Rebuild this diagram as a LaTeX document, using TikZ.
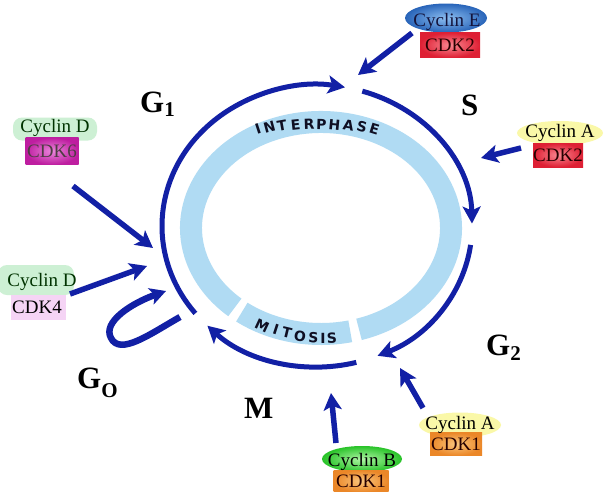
\documentclass[tikz,border=0pt]{standalone}
\usepackage{fontspec}
\setmainfont{Liberation Serif}
\newfontfamily\ringfont{DejaVu Sans}
\usetikzlibrary{arrows.meta,shapes.geometric}
\definecolor{arcblue}{RGB}{18,32,165}
\definecolor{ringblue}{RGB}{176,219,243}
\definecolor{ringtext}{RGB}{15,15,35}
\definecolor{navy}{RGB}{20,20,60}
\definecolor{cycEout}{RGB}{40,100,185}
\definecolor{cycEin}{RGB}{140,190,240}
\definecolor{cdkRout}{RGB}{222,32,52}
\definecolor{cdkRin}{RGB}{250,135,145}
\definecolor{cdkMout}{RGB}{190,30,160}
\definecolor{cdkMin}{RGB}{235,135,220}
\definecolor{cdkPink}{RGB}{245,212,245}
\definecolor{cdkOout}{RGB}{235,135,40}
\definecolor{cdkOin}{RGB}{250,198,125}
\definecolor{cycBout}{RGB}{40,195,40}
\definecolor{cycBin}{RGB}{175,245,165}
\definecolor{glowG}{RGB}{205,240,212}
\definecolor{glowY}{RGB}{250,248,168}
\begin{document}
\begin{tikzpicture}[x=1pt,y=1pt,
  arcarrow/.style={draw=arcblue, line width=5pt, -{Stealth[length=17pt,width=18pt,inset=4pt]}},
  sarrow/.style={draw=arcblue, line width=5.5pt, -{Stealth[length=17pt,width=18pt,inset=4pt]}},
  loopline/.style={draw=arcblue, line width=6.5pt, -{Stealth[length=16pt,width=17pt,inset=4pt]}},
  ring/.style={draw=ringblue, line width=22pt},
  ringtxt/.style={text=ringtext, font=\ringfont\bfseries\fontsize{14}{14}\selectfont, inner sep=0pt},
  lbl/.style={font=\fontsize{19}{19}\selectfont, inner sep=0pt},
  phase/.style={font=\bfseries\fontsize{31}{31}\selectfont, inner sep=0pt, anchor=base west},
  cdkbox/.style={rectangle, inner sep=0pt, draw=none},
  glowell/.style={ellipse, inner sep=0pt, fill=glowY},
  glowrect/.style={rectangle, rounded corners=9pt, inner sep=0pt, fill=glowG}
]
\useasboundingbox (0,0) rectangle (605,-491);
\fill[white] (0,0) rectangle (605,-491);

% light blue ring
\draw[ring] ([shift={(-73:130 and 106)}]321,-228) arc[start angle=-73, end angle=228.5, x radius=130, y radius=106];
\draw[ring] ([shift={(232.5:130 and 106)}]321,-228) arc[start angle=232.5, end angle=283, x radius=130, y radius=106];

% ring texts
\foreach \L/\x/\y/\r [count=\i] in {I/258/129/18, N/269.5/127.4/15, T/282/126/10, E/295.5/125/6, R/309/124.6/2, P/321.5/124.5/-1.5, H/334.5/124.9/-5.4, A/348.5/125.8/-9.6, S/362/127.2/-13.8, E/374.5/128.9/-17.4}
  \node[ringtxt, rotate=\r] (ip\i) at (\x,-\y) {\L};
\foreach \L/\x/\y/\r [count=\i] in {M/262/326/-25, I/276/329.5/-18, T/287/333/-13.5, O/300/336/-8.5, S/313.5/337.5/-3, I/323/338/0, S/332/338/3}
  \node[ringtxt, rotate=\r] (mi\i) at (\x,-\y) {\L};

% blue cycle arcs
\draw[arcarrow] ([shift={(218.3:155 and 141)}]317,-226) arc[start angle=218.3, end angle=79.6, x radius=155, y radius=141];
\draw[arcarrow] ([shift={(73:155 and 141)}]317,-226) arc[start angle=73, end angle=1, x radius=155, y radius=141];
\draw[arcarrow] ([shift={(-7.7:155 and 141)}]317,-226) arc[start angle=-7.7, end angle=-67, x radius=155, y radius=141];
\draw[arcarrow] ([shift={(-75.3:155 and 141)}]317,-226) arc[start angle=-75.3, end angle=-135, x radius=155, y radius=141];

% G0 loop
\coordinate (l0) at (180,-317);
\coordinate (l1) at (111,-338);
\coordinate (l2) at (166,-291);
\draw[loopline] (l0) .. controls (150,-334) and (120,-356) .. (l1)
                     .. controls (102,-322) and (132,-303) .. (l2);

% phase labels
\node[phase] (g1) at (140,-112) {G\raisebox{-4pt}{\fontsize{21}{21}\selectfont\bfseries 1}};
\node[phase] (s) at (461,-115) {S};
\node[phase] (g2) at (486,-355) {G\raisebox{-5pt}{\fontsize{21}{21}\selectfont\bfseries 2}};
\node[phase] (g0) at (77,-388) {G\raisebox{-9pt}{\fontsize{21}{21}\selectfont\bfseries O}};
\node[phase] (m) at (244,-418) {M};

% glows
\node[glowrect, minimum width=84pt, minimum height=23pt] (gDa) at (55,-129) {};
\node[glowrect, minimum width=76pt, minimum height=30pt] (gDb) at (36,-280) {};
\node[glowell, minimum width=86pt, minimum height=24pt] (gAr) at (560,-133) {};
\node[glowell, minimum width=82pt, minimum height=25pt] (gAb) at (460,-425) {};

% Cyclin E / Cyclin B ellipses
\node[ellipse, inner sep=0pt, minimum width=82pt, minimum height=29pt, shading=radial, inner color=cycEin, outer color=cycEout] (eE) at (446,-18) {};
\node[ellipse, inner sep=0pt, minimum width=80pt, minimum height=26pt, shading=radial, inner color=cycBin, outer color=cycBout] (eB) at (362,-459) {};

% CDK boxes
\node[cdkbox, minimum width=60pt, minimum height=25pt, shading=radial, inner color=cdkRin, outer color=cdkRout] (bK2a) at (450,-45) {};
\node[cdkbox, minimum width=50pt, minimum height=24pt, shading=radial, inner color=cdkRin, outer color=cdkRout] (bK2b) at (558,-155) {};
\node[cdkbox, minimum width=53pt, minimum height=27pt, shading=radial, inner color=cdkMin, outer color=cdkMout] (bK6) at (52,-151) {};
\node[cdkbox, minimum width=55pt, minimum height=25pt, fill=cdkPink] (bK4) at (38,-307) {};
\node[cdkbox, minimum width=52pt, minimum height=23pt, shading=radial, inner color=cdkOin, outer color=cdkOout] (bK1a) at (456,-444) {};
\node[cdkbox, minimum width=55pt, minimum height=22pt, shading=radial, inner color=cdkOin, outer color=cdkOout] (bK1b) at (361,-481) {};

% label texts
\node[lbl, text=navy] (tE) at (447,-22) {Cyclin E};
\node[lbl, text=black!85!red] (tK2a) at (450,-45) {CDK2};
\node[lbl, text=black!80!green] (tDa) at (55,-128) {Cyclin D};
\node[lbl, text=black!80!magenta] (tK6) at (52,-151) {CDK6};
\node[lbl, text=black!80!green] (tDb) at (42,-282) {Cyclin D};
\node[lbl, text=black] (tK4) at (37,-307) {CDK4};
\node[lbl, text=black] (tAr) at (560,-133) {Cyclin A};
\node[lbl, text=black!85!red] (tK2b) at (558,-155) {CDK2};
\node[lbl, text=black] (tAb) at (460,-425) {Cyclin A};
\node[lbl, text=black!85!red] (tK1a) at (456,-444) {CDK1};
\node[lbl, text=black] (tB) at (362,-462) {Cyclin B};
\node[lbl, text=black!85!red] (tK1b) at (361,-481) {CDK1};

% straight arrows
\coordinate (aE) at (412,-33);   \coordinate (aEt) at (358,-75);
\coordinate (aAr) at (521,-148); \coordinate (aArt) at (481,-158);
\coordinate (aD6) at (73,-186);  \coordinate (aD6t) at (153,-248);
\coordinate (aD4) at (70,-294);  \coordinate (aD4t) at (147,-266);
\coordinate (aAb) at (423,-408); \coordinate (aAbt) at (400,-368);
\coordinate (aB) at (336,-443);  \coordinate (aBt) at (331,-393);
\draw[sarrow] (aE) -- (aEt);
\draw[sarrow] (aAr) -- (aArt);
\draw[sarrow] (aD6) -- (aD6t);
\draw[sarrow] (aD4) -- (aD4t);
\draw[sarrow] (aAb) -- (aAbt);
\draw[sarrow] (aB) -- (aBt);
\end{tikzpicture}
\end{document}
